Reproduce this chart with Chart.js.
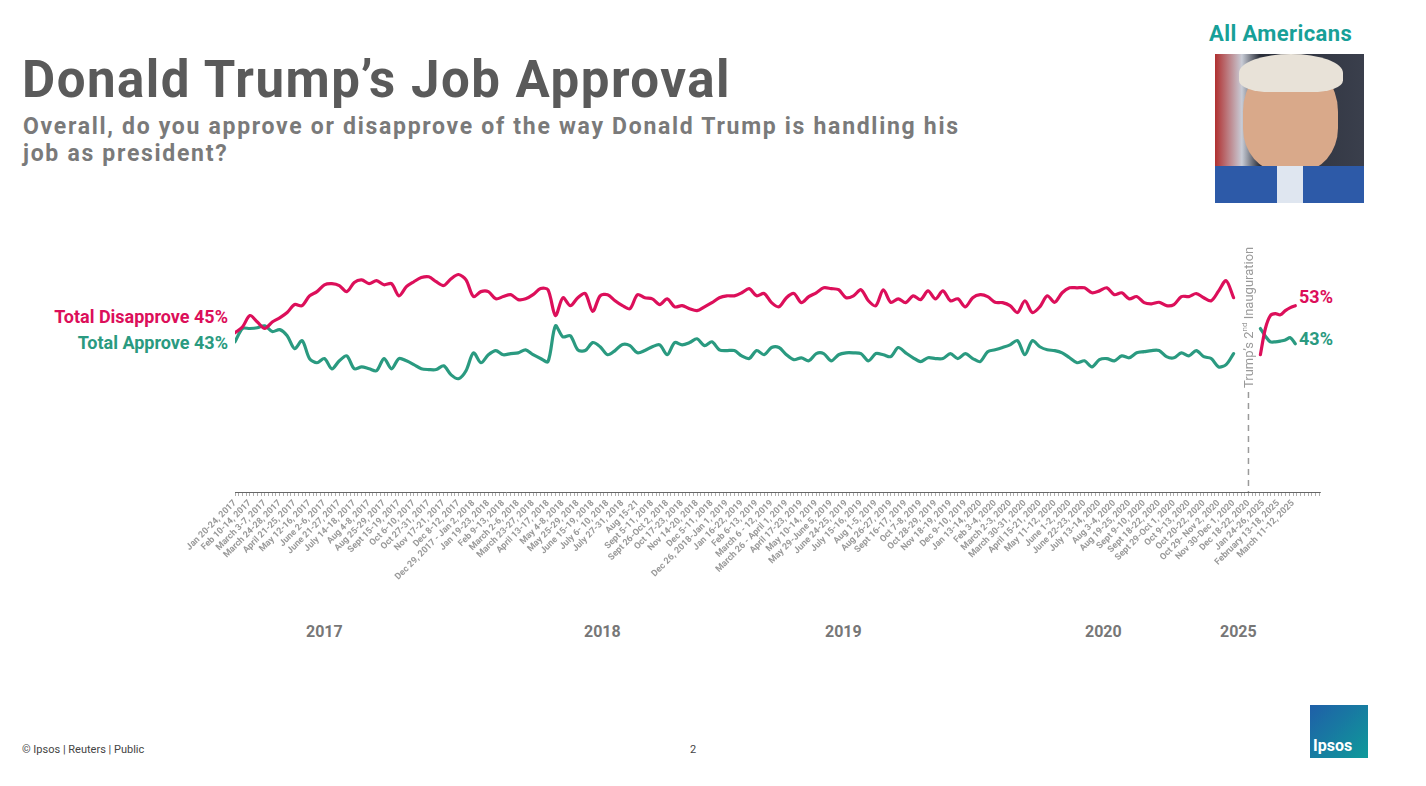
<!DOCTYPE html>
<html><head><meta charset="utf-8">
<script src="https://cdn.jsdelivr.net/npm/chart.js@4"></script>
<style>
body{margin:0;width:1426px;height:786px;background:#fff;font-family:Roboto,"Noto Sans",sans-serif;position:relative;overflow:hidden}
.abs{position:absolute;white-space:nowrap}
#c{position:absolute;left:0;top:0}
</style></head><body>
<div class="abs" style="left:22px;top:50px;font-size:51px;font-weight:700;color:#5a5a5a;letter-spacing:1.5px">Donald Trump’s Job Approval</div>
<div class="abs" style="left:23px;top:113px;font-size:23px;font-weight:700;color:#7a7a7a;line-height:27px;letter-spacing:1.7px">Overall, do you approve or disapprove of the way Donald Trump is handling his<br>job as president?</div>
<div class="abs" style="left:1209px;top:21px;font-size:22px;font-weight:700;color:#17a098;letter-spacing:0.4px">All Americans</div>
<div class="abs" style="left:1215px;top:54px;width:149px;height:149px;background:linear-gradient(90deg,#b03030 0,#c8ccd6 18%,#2b2f3a 30%,#3a3f4c 100%)">
 <div class="abs" style="left:28px;top:8px;width:95px;height:110px;border-radius:45% 45% 40% 40%;background:#d9a98a"></div>
 <div class="abs" style="left:24px;top:0px;width:104px;height:38px;border-radius:50% 50% 30% 30%;background:#e8e2d8"></div>
 <div class="abs" style="left:0;top:112px;width:149px;height:37px;background:#2d5aa8"></div>
 <div class="abs" style="left:62px;top:112px;width:26px;height:37px;background:#dfe6f0"></div>
</div>
<div class="abs" style="left:22px;top:743px;font-size:11px;color:#444">© Ipsos | Reuters | Public</div>
<div class="abs" style="left:690px;top:743px;font-size:11px;color:#444">2</div>
<div class="abs" style="left:1310px;top:705px;width:58px;height:53px;background:linear-gradient(135deg,#1f5fa8,#0f9a9a)"><div class="abs" style="left:3px;top:31px;font-size:16px;font-weight:700;color:#fff">Ipsos</div></div>
<div class="abs" style="left:0;width:228px;text-align:right;top:306px;font-size:18px;font-weight:700;color:#dc0f5a">Total Disapprove 45%</div>
<div class="abs" style="left:0;width:228px;text-align:right;top:332px;font-size:18px;font-weight:700;color:#2a9a80">Total Approve 43%</div>
<div class="abs" style="left:1299px;top:286px;font-size:18px;font-weight:700;color:#dc0f5a">53%</div>
<div class="abs" style="left:1299px;top:328px;font-size:18px;font-weight:700;color:#2a9a80">43%</div>
<div class="abs" style="left:306px;top:622px;font-size:16px;font-weight:700;color:#777">2017</div>
<div class="abs" style="left:584px;top:622px;font-size:16px;font-weight:700;color:#777">2018</div>
<div class="abs" style="left:825px;top:622px;font-size:16px;font-weight:700;color:#777">2019</div>
<div class="abs" style="left:1085px;top:622px;font-size:16px;font-weight:700;color:#777">2020</div>
<div class="abs" style="left:1220px;top:622px;font-size:16px;font-weight:700;color:#777">2025</div>
<canvas id="c" width="1426" height="786"></canvas>
<script>
const dateLabels = ["Jan 20-24, 2017","Feb 10-14, 2017","March 3-7, 2017","March 24-28, 2017","April 21-25, 2017","May 12-16, 2017","June 2-6, 2017","June 21-27, 2017","July 14-18, 2017","Aug 4-8, 2017","Aug 25-29, 2017","Sept 15-19, 2017","Oct 6-10, 2017","Oct 27-31, 2017","Nov 17-21, 2017","Dec 8-12, 2017","Dec 29, 2017 - Jan 2, 2018","Jan 19-23, 2018","Feb 9-13, 2018","March 2-6, 2018","March 23-27, 2018","April 13-17, 2018","May 4-8, 2018","May 25-29, 2018","June 15-19, 2018","July 6- 10, 2018","July 27-31, 2018","Aug 15-21","Sept 5-11, 2018","Sept 26-Oct 2, 2018","Oct 17-23, 2018","Nov 14-20, 2018","Dec 5-11, 2018","Dec 26, 2018-Jan 1, 2019","Jan 16-22, 2019","Feb 6-13, 2019","March 6 - 12, 2019","March 26 - April 1, 2019","April 17-23, 2019","May 10-14, 2019","May 29-June 5, 2019","June 24-25, 2019","July 15-16, 2019","Aug 1-5, 2019","Aug 26-27, 2019","Sept 16-17, 2019","Oct 7-8, 2019","Oct 28-29, 2019","Nov 18-19, 2019","Dec 9-10, 2019","Jan 13-14, 2020","Feb 3-4, 2020","March 2-3, 2020","March 30-31, 2020","April 15-21, 2020","May 11-12, 2020","June 1-2, 2020","June 22-23, 2020","July 13-14, 2020","Aug 3-4, 2020","Aug 19-25, 2020","Sept 9-10, 2020","Sept 18-22, 2020","Sept 29-Oct 1, 2020","Oct 9-13, 2020","Oct 20-22, 2020","Oct 29- Nov 2, 2020","Nov 30-Dec 1, 2020","Dec 18-22, 2020","Jan 24-26, 2025","February 13-18, 2025","March 11-12, 2025"];

// First term (2017-2020) polls
const disapprove1 = [45.9,47.4,50.4,48.7,47,48.7,49.8,51.2,53.3,53,55.6,56.7,58.5,58.8,58.3,56.7,59.1,59.8,58.8,59.6,58.5,58.8,55.6,58,59.3,60.4,60.6,59.3,58.3,60.1,61.2,59.8,55.4,56.7,56.7,54.8,55.4,55.9,54.6,54.8,55.9,57.5,57.2,50.4,55.1,53,55.1,56.2,51.5,55.6,55.9,54.3,53,52.2,55.9,55.1,54.8,53.3,54.8,52.7,53,52.2,51.7,52.7,53.8,55.1,55.6,55.6,56.4,57.5,55.6,56.2,53.8,52.7,55.1,56.2,53.8,55.4,56.4,57.7,57.5,57.2,55.1,55.6,57.2,54.3,53,57.2,53.9,54.8,53.8,55.6,54.6,56.9,54.8,56.9,54.3,54.8,52.7,55.1,55.9,55.4,53.9,53.8,53,51.2,54.3,51.2,52.7,55.6,53.9,56.4,57.7,57.7,57.7,56.4,56.9,57.7,55.9,56.4,54.8,55.4,53.8,53.5,53.9,53,53.3,55.4,55.4,56.2,55.1,54.3,56.9,59.6,55.1];
const approve1 = [43.5,47,47,47.2,47.7,46.2,46.7,45.1,41.7,43.8,39.1,38,39.1,36.4,38.5,39.8,36.4,36.9,36.4,35.9,39.1,36.4,39.1,38.5,37.5,36.4,36.2,36.2,37.2,34.8,33.8,35.9,40.6,38,40.1,41.2,40.1,40.4,40.6,41.4,40.1,39.1,38.3,47.7,44.8,45.1,41.4,41.2,43.3,42.2,40.1,41.2,42.8,42.5,40.6,41.2,42.2,42.7,40.1,43.3,42.7,43.3,44.3,42.5,43.5,41.4,41.2,41.2,39.8,39.1,41.2,40.1,42,42,40.1,38.8,39.3,38.5,40.4,40.4,38.5,40.1,40.6,40.6,40.4,38.5,40.4,40.1,39.6,42,40.6,39.3,38.3,39.3,39.1,39.1,40.4,39.1,40.4,39.1,38.3,40.9,41.4,42,42.7,43.8,40.1,43.8,42.2,41.4,41.2,40.6,39.3,38,38.5,36.9,38.8,39.1,38.5,39.8,39.3,40.6,40.9,41.2,41.2,39.6,39.3,40.6,39.8,41.2,39.6,39.1,36.9,37.5,40.4];
// Second term (2025) polls
const disapprove2 = [40.1,47,50.4,50.9,50.6,51.7,52.5,53];
const approve2 = [47,45,43.5,43.5,43.7,44,44.6,43];

const PINK='#dc0f5a', GREEN='#2a9a80';
const slotsPerLabel = 2;
const term2Start = 137.6, term2Step = 0.67, inaugurationSlot = 136;
const xMax = 145.6;
const pts = (arr, x0, step) => arr.map((v,i)=>({x:x0+i*step,y:v}));

const inaug = {
  id:'inaug',
  afterDatasetsDraw(ch){
    const c=ch.ctx, x=ch.scales.x.getPixelForValue(inaugurationSlot);
    c.save();
    c.strokeStyle='#9a9a9a'; c.lineWidth=1.5; c.setLineDash([6,5]);
    c.beginPath(); c.moveTo(x,392); c.lineTo(x,ch.chartArea.bottom); c.stroke();
    c.setLineDash([]);
    c.translate(x+5,388); c.rotate(-Math.PI/2);
    c.fillStyle='#9a9a9a'; c.font='13px Roboto'; c.textBaseline='alphabetic';
    c.fillText('Trump’s 2',0,0);
    let w=c.measureText('Trump’s 2').width;
    c.font='8px Roboto'; c.fillText('nd',w,-6);
    let w2=c.measureText('nd').width;
    c.font='13px Roboto'; c.fillText(' Inauguration',w+w2,0);
    c.restore();
  }
};

new Chart(document.getElementById('c'),{
  type:'line',
  data:{datasets:[
    {data:pts(disapprove1,0,1),borderColor:PINK},
    {data:pts(approve1,0,1),borderColor:GREEN},
    {data:pts(disapprove2,term2Start,term2Step),borderColor:PINK},
    {data:pts(approve2,term2Start,term2Step),borderColor:GREEN}
  ]},
  options:{
    responsive:false,animation:false,
    layout:{padding:{left:235,right:106,top:127,bottom:174}},
    elements:{point:{radius:0},line:{borderWidth:3.2,tension:0.3,borderCapStyle:'round',borderJoinStyle:'round'}},
    plugins:{legend:{display:false},tooltip:{enabled:false}},
    scales:{
      y:{display:false,min:4,max:100},
      x:{type:'linear',min:0,max:xMax,
        afterBuildTicks(s){const t=[];for(let v=0;v<=xMax;v+=0.5)t.push({value:v});s.ticks=t;},
        afterFit(s){s.height=120;s.paddingLeft=0;s.paddingRight=0;},
        border:{display:true,color:'#666',width:1},
        grid:{display:true,drawOnChartArea:false,tickLength:4,color:'#777',lineWidth:0.6},
        ticks:{autoSkip:false,minRotation:45,maxRotation:45,padding:2,color:'#999',font:{size:9,weight:'bold',family:'Roboto'},
          callback(v){const k=v/slotsPerLabel;return Number.isInteger(k)&&dateLabels[k]?dateLabels[k]:'';}}
      }
    }
  },
  plugins:[inaug]
});
</script>
</body></html>
